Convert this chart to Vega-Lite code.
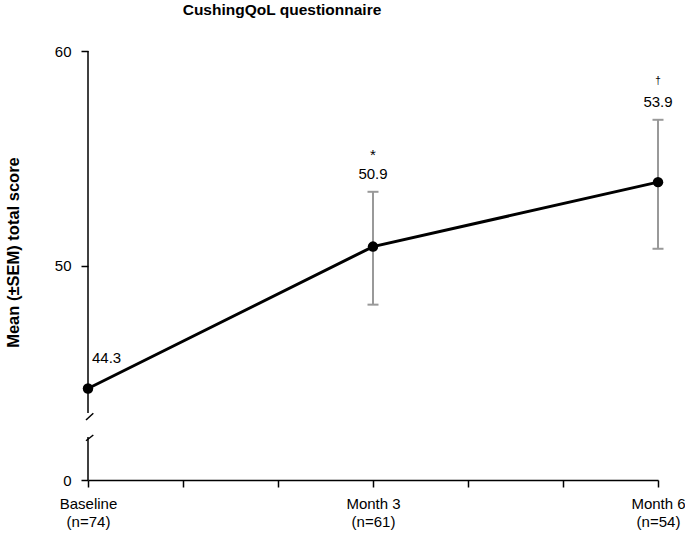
{
  "$schema": "https://vega.github.io/schema/vega-lite/v6.json",
  "width": 570,
  "height": 429,
  "autosize": {"type": "none"},
  "padding": {"left": 88, "top": 51, "right": 27, "bottom": 55},
  "title": {
    "text": "CushingQoL questionnaire",
    "font": "Liberation Sans",
    "fontSize": 15.5,
    "fontWeight": "bold",
    "color": "#000000",
    "anchor": "middle",
    "dx": -91,
    "offset": 26
  },
  "config": {
    "view": {"stroke": null},
    "font": "Liberation Sans",
    "text": {"font": "Liberation Sans", "color": "#000000"},
    "axis": {"grid": false, "labelFont": "Liberation Sans", "titleFont": "Liberation Sans"}
  },
  "datasets": {
    "main": [
      {"t": 0, "label": "44.3", "mean": 44.3, "lo": null, "hi": null, "sig": ""},
      {"t": 3, "label": "50.9", "mean": 50.9, "lo": 48.2, "hi": 53.45, "sig": "*"},
      {"t": 6, "label": "53.9", "mean": 53.9, "lo": 50.8, "hi": 56.8, "sig": "†"}
    ],
    "axisSeg": [
      {"x": 0, "a": 0, "b": 27.7},
      {"x": 0, "a": 43.16, "b": 60}
    ],
    "slashes": [
      {"x1": -0.021, "x2": 0.056, "y1": 25.3, "y2": 29.0},
      {"x1": -0.021, "x2": 0.056, "y1": 38.65, "y2": 42.97}
    ]
  },
  "layer": [
    {
      "data": {"name": "axisSeg"},
      "mark": {"type": "rule", "color": "#000000", "strokeWidth": 1.5},
      "encoding": {
        "x": {
          "field": "x", "type": "quantitative",
          "scale": {"domain": [0, 6], "nice": false, "zero": false},
          "title": null,
          "axis": {
            "values": [0, 1, 2, 3, 4, 5, 6],
            "labelExpr": "datum.value == 0 ? ['Baseline', '(n=74)'] : datum.value == 3 ? ['Month 3', '(n=61)'] : datum.value == 6 ? ['Month 6', '(n=54)'] : ''",
            "labelFontSize": 15,
            "labelColor": "#000000",
            "labelLineHeight": 18,
            "labelBaseline": "top",
            "labelPadding": 9,
            "labelOverlap": false,
            "labelFlush": false,
            "labelBound": false,
            "tickSize": 7,
            "tickWidth": 1.5,
            "tickColor": "#000000",
            "domainColor": "#000000",
            "domainWidth": 1.5
          }
        },
        "y": {
          "field": "a", "type": "quantitative",
          "scale": {"domain": [0, 43.16, 60], "range": [429, 362, 0], "nice": false, "zero": false},
          "title": "Mean (±SEM) total score",
          "axis": {
            "titleFontSize": 16.5,
            "titleFontWeight": "bold",
            "titleColor": "#000000",
            "titleX": -67,
            "titleY": 201,
            "values": [0, 50, 60],
            "domain": false,
            "labelFontSize": 15,
            "labelColor": "#000000",
            "labelPadding": 10,
            "tickSize": 7,
            "tickWidth": 1.5,
            "tickColor": "#000000"
          }
        },
        "y2": {"field": "b"}
      }
    },
    {
      "data": {"name": "slashes"},
      "mark": {"type": "rule", "color": "#000000", "strokeWidth": 1.5},
      "encoding": {
        "x": {"field": "x1", "type": "quantitative", "title": null},
        "x2": {"field": "x2"},
        "y": {"field": "y1", "type": "quantitative", "title": "Mean (±SEM) total score"},
        "y2": {"field": "y2"}
      }
    },
    {
      "data": {"name": "main"},
      "transform": [{"filter": "datum.lo != null"}],
      "mark": {"type": "rule", "color": "#999999", "strokeWidth": 2},
      "encoding": {
        "x": {"field": "t", "type": "quantitative", "title": null},
        "y": {"field": "lo", "type": "quantitative", "title": "Mean (±SEM) total score"},
        "y2": {"field": "hi"}
      }
    },
    {
      "data": {"name": "main"},
      "transform": [{"filter": "datum.lo != null"}],
      "mark": {"type": "tick", "orient": "horizontal", "color": "#999999", "size": 11, "thickness": 2, "opacity": 1},
      "encoding": {
        "x": {"field": "t", "type": "quantitative", "title": null},
        "y": {"field": "lo", "type": "quantitative", "title": "Mean (±SEM) total score"}
      }
    },
    {
      "data": {"name": "main"},
      "transform": [{"filter": "datum.lo != null"}],
      "mark": {"type": "tick", "orient": "horizontal", "color": "#999999", "size": 11, "thickness": 2, "opacity": 1},
      "encoding": {
        "x": {"field": "t", "type": "quantitative", "title": null},
        "y": {"field": "hi", "type": "quantitative", "title": "Mean (±SEM) total score"}
      }
    },
    {
      "data": {"name": "main"},
      "mark": {"type": "line", "color": "#000000", "strokeWidth": 3},
      "encoding": {
        "x": {"field": "t", "type": "quantitative", "title": null},
        "y": {"field": "mean", "type": "quantitative", "title": "Mean (±SEM) total score"}
      }
    },
    {
      "data": {"name": "main"},
      "mark": {"type": "circle", "color": "#000000", "size": 110, "opacity": 1},
      "encoding": {
        "x": {"field": "t", "type": "quantitative", "title": null},
        "y": {"field": "mean", "type": "quantitative", "title": "Mean (±SEM) total score"}
      }
    },
    {
      "data": {"name": "main"},
      "transform": [{"filter": "datum.lo != null"}],
      "mark": {"type": "text", "fontSize": 15, "dy": -12.5, "baseline": "alphabetic", "align": "center"},
      "encoding": {
        "x": {"field": "t", "type": "quantitative", "title": null},
        "y": {"field": "hi", "type": "quantitative", "title": "Mean (±SEM) total score"},
        "text": {"field": "label"}
      }
    },
    {
      "data": {"name": "main"},
      "transform": [{"filter": "datum.t == 0"}],
      "mark": {"type": "text", "fontSize": 15, "dx": 4, "dy": -25.5, "baseline": "alphabetic", "align": "left"},
      "encoding": {
        "x": {"field": "t", "type": "quantitative", "title": null},
        "y": {"field": "mean", "type": "quantitative", "title": "Mean (±SEM) total score"},
        "text": {"field": "label"}
      }
    },
    {
      "data": {"name": "main"},
      "transform": [{"filter": "datum.sig == '*'"}],
      "mark": {"type": "text", "fontSize": 15, "dy": -31.5, "baseline": "alphabetic", "align": "center"},
      "encoding": {
        "x": {"field": "t", "type": "quantitative", "title": null},
        "y": {"field": "hi", "type": "quantitative", "title": "Mean (±SEM) total score"},
        "text": {"field": "sig"}
      }
    },
    {
      "data": {"name": "main"},
      "transform": [{"filter": "datum.t == 6"}],
      "mark": {"type": "text", "fontSize": 10, "dy": -36, "baseline": "alphabetic", "align": "center"},
      "encoding": {
        "x": {"field": "t", "type": "quantitative", "title": null},
        "y": {"field": "hi", "type": "quantitative", "title": "Mean (±SEM) total score"},
        "text": {"field": "sig"}
      }
    }
  ]
}
